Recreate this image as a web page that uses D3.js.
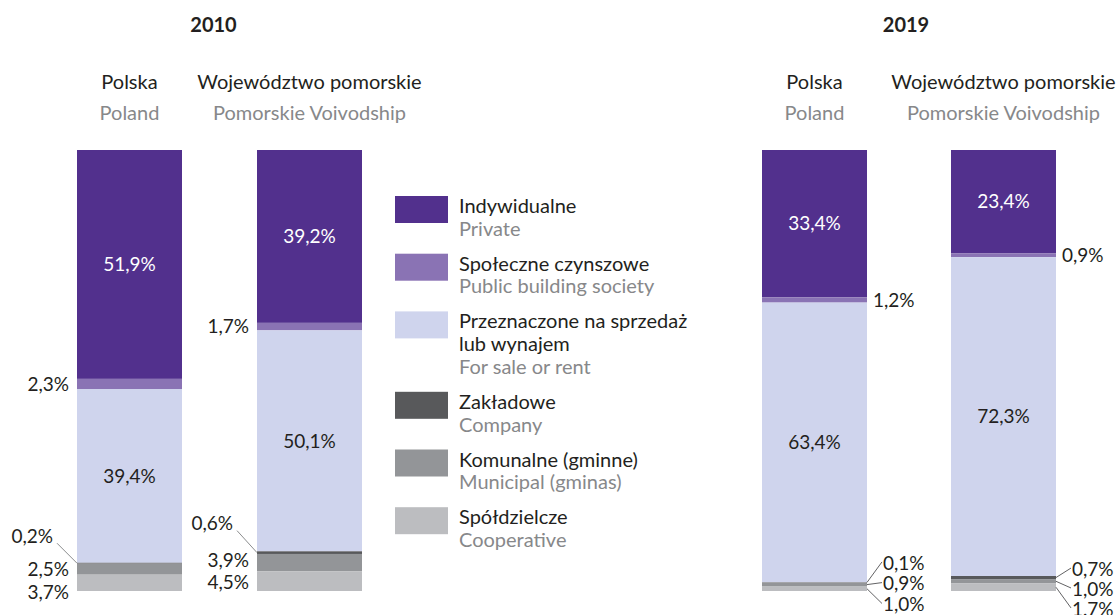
<!DOCTYPE html>
<html>
<head>
<meta charset="utf-8">
<script src="https://cdn.jsdelivr.net/npm/d3@7"></script>
<style>
  body { margin: 0; background: #fff; }
  svg { display: block; font-family: Lato, "Open Sans", sans-serif; }
</style>
</head>
<body>
<svg id="chart" width="1117" height="615"></svg>
<script>
// Dwellings completed by form of construction (% share)
const years = ["2010", "2019"];
const regionsPl = ["Polska", "Województwo pomorskie"];
const regionsEn = ["Poland", "Pomorskie Voivodship"];

const categoriesPl = [
  "Indywidualne",
  "Społeczne czynszowe",
  "Przeznaczone na sprzedaż\nlub wynajem",
  "Zakładowe",
  "Komunalne (gminne)",
  "Spółdzielcze"
];
const categoriesEn = [
  "Private",
  "Public building society",
  "For sale or rent",
  "Company",
  "Municipal (gminas)",
  "Cooperative"
];
const colors = ["#52308d", "#8a73b4", "#cfd4ed", "#58595b", "#939598", "#bcbdc0"];

const values2010Polska    = [51.9, 2.3, 39.4, 0.2, 2.5, 3.7];
const values2010Pomorskie = [39.2, 1.7, 50.1, 0.6, 3.9, 4.5];
const values2019Polska    = [33.4, 1.2, 63.4, 0.1, 0.9, 1.0];
const values2019Pomorskie = [23.4, 0.9, 72.3, 0.7, 1.0, 1.7];

const bars = [
  { year: "2010", region: 0, values: values2010Polska },
  { year: "2010", region: 1, values: values2010Pomorskie },
  { year: "2019", region: 0, values: values2019Polska },
  { year: "2019", region: 1, values: values2019Pomorskie }
];

// ---- layout ----
const panels = {
  "2010": { range: [77, 362], padding: 0.4167, side: "left", titleShift: -6 },
  "2019": { range: [762, 1056], padding: 0.4444, side: "right", titleShift: -3 }
};
// shift (px) of small outside labels away from their segment centre, and leader use
const smallLabelLayout = {
  "2010|0|1": { dy: 0 },   "2010|0|3": { dy: -27, leader: true },
  "2010|0|4": { dy: 0 },   "2010|0|5": { dy: 9 },
  "2010|1|1": { dy: 0 },   "2010|1|3": { dy: -29, leader: true },
  "2010|1|4": { dy: -2 },  "2010|1|5": { dy: 1 },
  "2019|0|1": { dy: 0 },   "2019|0|3": { dy: -19.5, leader: true },
  "2019|0|4": { dy: -1, leader: true }, "2019|0|5": { dy: 15.7, leader: true },
  "2019|1|1": { dy: 0 },   "2019|1|3": { dy: -8.5, leader: true },
  "2019|1|4": { dy: 7.7, leader: true }, "2019|1|5": { dy: 21.7, leader: true }
};

const svg = d3.select("#chart");
const fmt = v => d3.format(".1f")(v).replace(".", ",") + "%";

const y = d3.scaleLinear().domain([0, 100]).range([150, 591]);
const xScales = {};
years.forEach(yr => {
  xScales[yr] = d3.scaleBand()
    .domain([0, 1])
    .range(panels[yr].range)
    .paddingInner(panels[yr].padding)
    .paddingOuter(0);
});

const stack = d3.stack()
  .keys(d3.range(categoriesPl.length))
  .value((d, k) => d.values[k]);
const series = stack(bars);

// year titles
years.forEach(yr => {
  const r = panels[yr].range;
  svg.append("text")
    .attr("x", (r[0] + r[1]) / 2 + panels[yr].titleShift)
    .attr("y", 31.5)
    .attr("text-anchor", "middle")
    .attr("font-weight", 700)
    .attr("font-size", 20)
    .attr("fill", "#231f20")
    .text(yr);
});

// column headers
bars.forEach(b => {
  const x = xScales[b.year];
  const cx = x(b.region) + x.bandwidth() / 2;
  svg.append("text")
    .attr("x", cx).attr("y", 89)
    .attr("text-anchor", "middle")
    .attr("font-size", 20)
    .attr("fill", "#231f20")
    .text(regionsPl[b.region]);
  svg.append("text")
    .attr("x", cx).attr("y", 120)
    .attr("text-anchor", "middle")
    .attr("font-size", 20)
    .attr("fill", "#87888a")
    .text(regionsEn[b.region]);
});

// stacked segments
const gBars = svg.append("g");
series.forEach((s, k) => {
  gBars.selectAll(null)
    .data(s)
    .join("rect")
    .attr("x", (d, i) => xScales[bars[i].year](bars[i].region))
    .attr("width", (d, i) => xScales[bars[i].year].bandwidth())
    .attr("y", d => y(d[0]))
    .attr("height", d => y(d[1]) - y(d[0]))
    .attr("fill", colors[k]);
});

// value labels
const gLab = svg.append("g").attr("font-size", 19);
series.forEach((s, k) => {
  s.forEach((d, i) => {
    const b = bars[i];
    const v = b.values[k];
    const x = xScales[b.year];
    const x0 = x(b.region), x1 = x0 + x.bandwidth();
    const cy = (y(d[0]) + y(d[1])) / 2;
    if (v >= 10) {
      gLab.append("text")
        .attr("x", (x0 + x1) / 2).attr("y", cy).attr("dy", "0.36em")
        .attr("text-anchor", "middle")
        .attr("fill", k === 0 ? "#ffffff" : "#231f20")
        .text(fmt(v));
      return;
    }
    const lay = smallLabelLayout[`${b.year}|${b.region}|${k}`] || { dy: 0 };
    const ly = cy + lay.dy;
    const side = panels[b.year].side;
    let tx;
    if (side === "left") {
      tx = lay.leader ? x0 - 24 : x0 - 8;
      if (lay.leader) {
        gLab.append("line")
          .attr("x1", x0).attr("y1", cy)
          .attr("x2", tx + 4).attr("y2", ly + 7)
          .attr("stroke", "#6d6e71").attr("stroke-width", 0.8);
      }
    } else {
      tx = lay.leader ? x1 + 16 : x1 + 6;
      if (lay.leader) {
        gLab.append("line")
          .attr("x1", x1).attr("y1", cy)
          .attr("x2", tx - 1).attr("y2", ly - 1)
          .attr("stroke", "#3a3a3c").attr("stroke-width", 0.8);
      }
    }
    gLab.append("text")
      .attr("x", tx).attr("y", ly).attr("dy", "0.36em")
      .attr("text-anchor", side === "left" ? "end" : "start")
      .attr("fill", "#231f20")
      .text(fmt(v));
  });
});

// legend
const legend = svg.append("g").attr("font-size", 20);
const lineH = 22.7, gap = 12.3;
let base = 213;
categoriesPl.forEach((name, k) => {
  const plLines = name.split("\n");
  legend.append("rect")
    .attr("x", 395).attr("y", base - 17)
    .attr("width", 53).attr("height", 27)
    .attr("fill", colors[k]);
  plLines.forEach((ln, j) => {
    legend.append("text")
      .attr("x", 459).attr("y", base + j * lineH)
      .attr("fill", "#231f20")
      .text(ln);
  });
  legend.append("text")
    .attr("x", 459).attr("y", base + plLines.length * lineH)
    .attr("fill", "#87888a")
    .text(categoriesEn[k]);
  base += (plLines.length + 1) * lineH + gap;
});
</script>
</body>
</html>
